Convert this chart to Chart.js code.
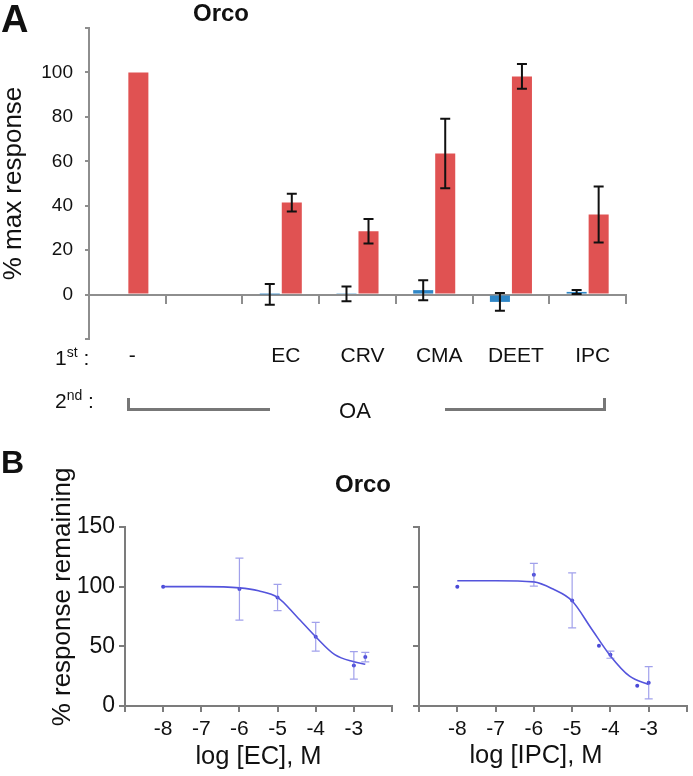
<!DOCTYPE html>
<html>
<head>
<meta charset="utf-8">
<script src="https://cdn.jsdelivr.net/npm/chart.js@4.4.0/dist/chart.umd.min.js"></script>
<style>
  body { margin: 0; background: #fff; }
  #page { position: relative; width: 693px; height: 776px; overflow: hidden;
          font-family: "Liberation Sans", Arial, sans-serif; color: #111; }
  canvas { position: absolute; }
  .txt { position: absolute; line-height: 1; white-space: nowrap; }
  .mid { transform: translate(-50%, -50%); }
  .bold { font-weight: bold; }
  sup { font-size: 14px; line-height: 0; vertical-align: 8px; }
  .bracket { position: absolute; border-color: #777; border-style: solid; border-width: 0; }
</style>
</head>
<body>
<div id="page">
  <canvas id="barChart" width="693" height="440" style="left:0;top:0"></canvas>
  <canvas id="ecChart" width="400" height="336" style="left:0;top:440px"></canvas>
  <canvas id="ipcChart" width="293" height="336" style="left:400px;top:440px"></canvas>

  <div class="txt bold" style="left:1px;top:0;font-size:38px">A</div>
  <div class="txt bold mid" style="left:221px;top:13px;font-size:24px">Orco</div>

  <div class="txt" style="left:55px;top:347px;font-size:21px">1<sup>st</sup> :</div>
  <div class="txt" style="left:55px;top:390px;font-size:21px">2<sup>nd</sup> :</div>
  <div class="bracket" style="left:127px;top:398px;width:140px;height:10px;border-left-width:3px;border-bottom-width:3px"></div>
  <div class="bracket" style="left:445px;top:398px;width:158px;height:10px;border-right-width:3px;border-bottom-width:3px"></div>
  <div class="txt mid" style="left:355px;top:411px;font-size:22px">OA</div>

  <div class="txt bold" style="left:1px;top:446px;font-size:32px">B</div>
  <div class="txt bold mid" style="left:363px;top:484px;font-size:24px">Orco</div>
  <div class="txt mid" style="left:61px;top:597px;font-size:26px;transform:translate(-50%,-50%) rotate(-90deg)">% response remaining</div>
  <div class="txt mid" style="left:536px;top:755px;font-size:25.5px">log [IPC], M</div>
</div>
<script>
// panel A: % max response, 1st compound alone vs followed by OA
const categories = ['-', '', 'EC', 'CRV', 'CMA', 'DEET', 'IPC'];
const firstOnly = [null, null, 0.1, 0.3, 2, -3.3, 1.2];
const firstOnlyErr = [null, null, 4.7, 3.3, 4.5, 4, 0.9];
const withOA = [100, null, 41.4, 28.5, 63.5, 98.2, 36];
const withOAErr = [null, null, 4, 5.5, 15.6, 5.6, 12.6];
const yTicksA = [0, 20, 40, 60, 80, 100];

// panel B: dose response, log concentration (M)
const ecLogConc = [-8, -6, -5, -4, -3, -2.7];
const ecResponse = [100, 98, 91, 58, 34, 41];
const ecErr = [null, 26, 11, 12, 11.5, 4];
const ecFitX = [-8, -7, -6, -5.5, -5, -4.5, -4, -3.5, -3, -2.7];
const ecFitY = [100, 100, 99, 96.5, 91, 75, 58, 43, 37, 35];

const ipcLogConc = [-8, -6, -5, -4.3, -4, -3.3, -3];
const ipcResponse = [100, 110, 88.5, 50.5, 43, 17, 19.5];
const ipcErr = [null, 9.5, 23, null, 3, null, 13.5];
const ipcFitX = [-8, -7, -6, -5.5, -5, -4.5, -4, -3.5, -3];
const ipcFitY = [105, 105, 104, 98, 88, 65, 42, 25, 18];

const xTicksB = [-8, -7, -6, -5, -4, -3];
const yTicksB = [0, 50, 100, 150];

Chart.defaults.font.family = '"Liberation Sans", Arial, sans-serif';
Chart.defaults.color = '#111';

const errorBarPlugin = {
    id: 'errorBars',
    afterDatasetsDraw(chart, args, opts) {
        const ctx = chart.ctx;
        const yScale = chart.scales.y;
        chart.data.datasets.forEach((ds, i) => {
            if (!ds.errorBars) return;
            const meta = chart.getDatasetMeta(i);
            meta.data.forEach((el, j) => {
                const raw = ds.data[j];
                const v = (raw !== null && typeof raw === 'object') ? raw.y : raw;
                const e = ds.errorBars[j];
                if (v == null || e == null) return;
                const x = el.x;
                const top = yScale.getPixelForValue(v + e);
                const bot = yScale.getPixelForValue(v - e);
                ctx.save();
                ctx.strokeStyle = opts.color;
                ctx.lineWidth = opts.width;
                ctx.beginPath();
                ctx.moveTo(x, top); ctx.lineTo(x, bot);
                ctx.moveTo(x - opts.cap, top); ctx.lineTo(x + opts.cap, top);
                ctx.moveTo(x - opts.cap, bot); ctx.lineTo(x + opts.cap, bot);
                ctx.stroke();
                ctx.restore();
            });
        });
    }
};

const axisGrey = '#8e8e8e';

new Chart(document.getElementById('barChart'), {
    type: 'bar',
    data: {
        labels: categories,
        datasets: [{
            label: '1st',
            data: firstOnly,
            errorBars: firstOnlyErr,
            backgroundColor: '#2f86c6',
            barPercentage: 0.91,
            categoryPercentage: 0.574
        }, {
            label: '1st + OA',
            data: withOA,
            errorBars: withOAErr,
            backgroundColor: '#e05252',
            barPercentage: 0.91,
            categoryPercentage: 0.574
        }]
    },
    options: {
        responsive: false,
        animation: false,
        layout: { padding: { left: 0, top: 28, right: 67, bottom: 101 } },
        plugins: {
            legend: { display: false },
            tooltip: { enabled: false },
            errorBars: { color: '#111', width: 2, cap: 5 }
        },
        scales: {
            x: {
                position: { y: 0 },
                grid: { drawOnChartArea: false, offset: true, color: axisGrey, lineWidth: 2, tickLength: 8 },
                border: { color: axisGrey, width: 2 },
                ticks: { padding: 41, labelOffset: 5, autoSkip: false, maxRotation: 0, font: { size: 21 } }
            },
            y: {
                min: -20,
                max: 120,
                ticks: {
                    stepSize: 20,
                    padding: 12,
                    font: { size: 19 },
                    callback: v => yTicksA.includes(v) ? v : ''
                },
                grid: { drawOnChartArea: false, color: axisGrey, lineWidth: 2, tickLength: 4 },
                border: { color: axisGrey, width: 2 },
                title: {
                    display: true,
                    text: '% max response',
                    font: { size: 26, lineHeight: 1 },
                    padding: { top: 1, bottom: 0 }
                },
                afterFit: s => { s.width = 89; s.paddingTop = 0; s.paddingBottom = 0; }
            }
        }
    },
    plugins: [errorBarPlugin]
});

function doseChart(id, fitX, fitY, xs, ys, errs, yWidth, rightPad, showYLabels, xTitle) {
    return new Chart(document.getElementById(id), {
        type: 'scatter',
        data: {
            datasets: [{
                label: 'fit',
                data: fitX.map((x, i) => ({ x: x, y: fitY[i] })),
                showLine: true,
                pointRadius: 0,
                borderColor: '#5454dc',
                borderWidth: 1.6,
                cubicInterpolationMode: 'monotone'
            }, {
                label: 'data',
                data: xs.map((x, i) => ({ x: x, y: ys[i] })),
                errorBars: errs,
                pointRadius: 2,
                pointBorderWidth: 0,
                pointBackgroundColor: '#4a4ad8'
            }]
        },
        options: {
            responsive: false,
            animation: false,
            layout: { padding: { left: 0, top: 87, right: rightPad, bottom: 0 } },
            plugins: {
                legend: { display: false },
                tooltip: { enabled: false },
                errorBars: { color: 'rgba(110,110,225,0.65)', width: 1.2, cap: 4 }
            },
            scales: {
                x: {
                    type: 'linear',
                    min: -9,
                    max: -2,
                    ticks: {
                        stepSize: 1,
                        padding: 5,
                        autoSkip: false,
                        maxRotation: 0,
                        font: { size: 21 },
                        callback: v => xTicksB.includes(v) ? String(v) : ''
                    },
                    grid: { drawOnChartArea: false, color: '#7c7c7c', lineWidth: 2, tickLength: 6 },
                    border: { color: '#7c7c7c', width: 2 },
                    title: {
                        display: !!xTitle,
                        text: xTitle,
                        font: { size: 25.5 },
                        padding: { top: 0, bottom: 4 }
                    },
                    afterFit: s => { s.height = 70; s.paddingLeft = 0; s.paddingRight = 0; }
                },
                y: {
                    min: 0,
                    max: 150,
                    ticks: {
                        stepSize: 50,
                        padding: 4,
                        font: { size: 23 },
                        callback: v => (showYLabels && yTicksB.includes(v)) ? v : ''
                    },
                    grid: { drawOnChartArea: false, color: '#7c7c7c', lineWidth: 2, tickLength: 6 },
                    border: { color: '#7c7c7c', width: 2 },
                    afterFit: s => { s.width = yWidth; s.paddingTop = 0; s.paddingBottom = 0; }
                }
            }
        },
        plugins: [errorBarPlugin]
    });
}

doseChart('ecChart', ecFitX, ecFitY, ecLogConc, ecResponse, ecErr, 125, 8, true, 'log [EC], M');
doseChart('ipcChart', ipcFitX, ipcFitY, ipcLogConc, ipcResponse, ipcErr, 19, 6, false, '');
</script>
</body>
</html>
